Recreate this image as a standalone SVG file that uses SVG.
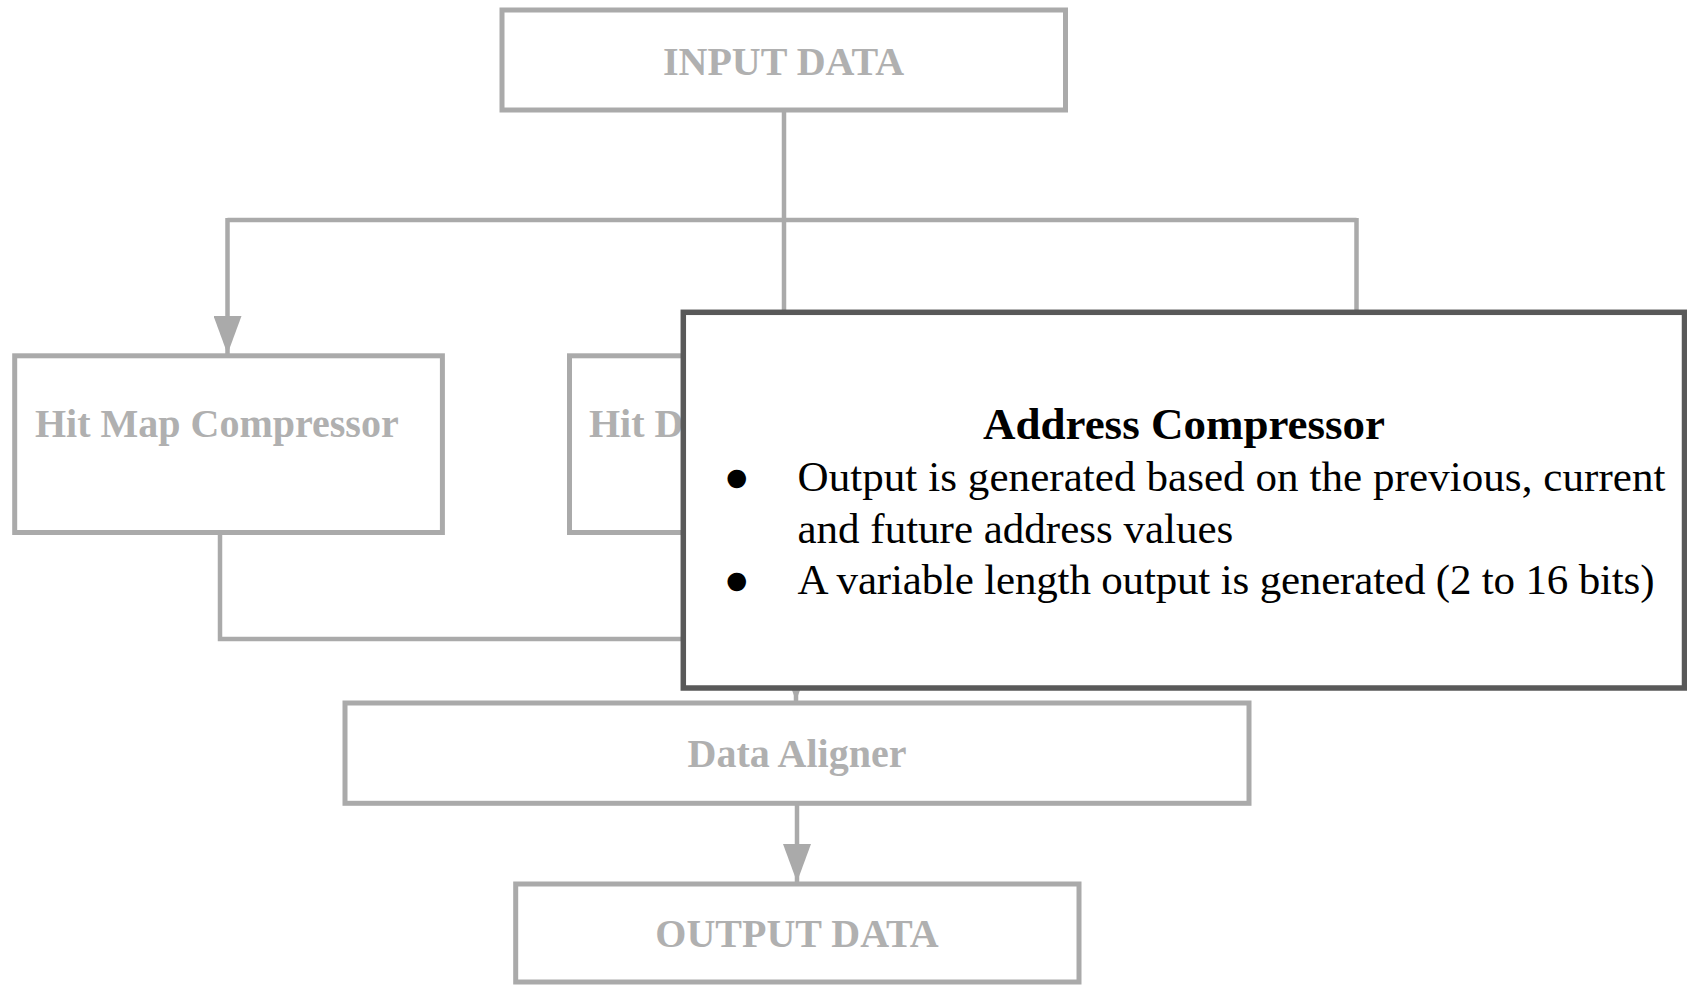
<svg xmlns="http://www.w3.org/2000/svg" width="1687" height="985" viewBox="0 0 1687 985">
  <style>
    .box { fill: #ffffff; stroke: #aaaaaa; stroke-width: 5; }
    .lbl { font-family: "Liberation Serif", "Times New Roman", serif; font-weight: bold; font-size: 40px; fill: #b0b0b0; }
    .wire { fill: none; stroke: #aaaaaa; stroke-width: 4.5; }
    .card { fill: #ffffff; stroke: #595959; stroke-width: 5.5; }
    .card-title { font-family: "Liberation Serif", "Times New Roman", serif; font-weight: bold; font-size: 45px; fill: #000000; }
    .card-text { font-family: "Liberation Serif", "Times New Roman", serif; font-size: 43px; fill: #000000; }
  </style>
  <defs>
    <marker id="arrow" markerUnits="userSpaceOnUse" markerWidth="38" markerHeight="28" refX="38" refY="14" orient="auto">
      <path d="M0,0 L38,14 L0,28 Z" fill="#aaaaaa"/>
    </marker>
  </defs>

  <rect width="1687" height="985" fill="#ffffff"/>

  <!-- connectors -->
  <g id="connectors">
    <line class="wire" x1="784" y1="110" x2="784" y2="330"/>
    <polyline class="wire" points="227.5,220 1356.5,220"/>
    <line class="wire" x1="227.5" y1="218" x2="227.5" y2="354" marker-end="url(#arrow)"/>
    <line class="wire" x1="1356.5" y1="218" x2="1356.5" y2="330"/>
    <polyline class="wire" points="220,532 220,639 796,639 796,701" marker-end="url(#arrow)"/>
    <line class="wire" x1="797" y1="803" x2="797" y2="882" marker-end="url(#arrow)"/>
  </g>

  <!-- nodes -->
  <g id="input-data">
    <rect class="box" x="502" y="10" width="563.5" height="100"/>
    <text class="lbl" x="783.5" y="75" text-anchor="middle">INPUT DATA</text>
  </g>

  <g id="hit-map-compressor">
    <rect class="box" x="14.7" y="355.8" width="427.7" height="176.7"/>
    <text class="lbl" x="35" y="437">Hit Map Compressor</text>
  </g>

  <g id="hit-d">
    <rect class="box" x="569.5" y="355.8" width="428" height="176.7"/>
    <text class="lbl" x="589" y="437">Hit D</text>
  </g>

  <g id="data-aligner">
    <rect class="box" x="345" y="703" width="904" height="100.3"/>
    <text class="lbl" x="797" y="767" text-anchor="middle">Data Aligner</text>
  </g>

  <g id="output-data">
    <rect class="box" x="515.7" y="884" width="563.3" height="98"/>
    <text class="lbl" x="797" y="947" text-anchor="middle">OUTPUT DATA</text>
  </g>

  <!-- description card for the address compressor -->
  <g id="address-compressor-card">
    <rect class="card" x="683.3" y="312.3" width="1001.2" height="375.7"/>
    <text class="card-title" x="1184" y="439" text-anchor="middle">Address Compressor</text>
    <text class="card-text" x="736.7" y="490.7" text-anchor="middle">●</text>
    <text class="card-text" x="797.5" y="490.7" textLength="868" lengthAdjust="spacing">Output is generated based on the previous, current</text>
    <text class="card-text" x="797.5" y="542.5">and future address values</text>
    <text class="card-text" x="736.7" y="594" text-anchor="middle">●</text>
    <text class="card-text" x="797.5" y="594" textLength="857" lengthAdjust="spacing">A variable length output is generated (2 to 16 bits)</text>
  </g>
</svg>
